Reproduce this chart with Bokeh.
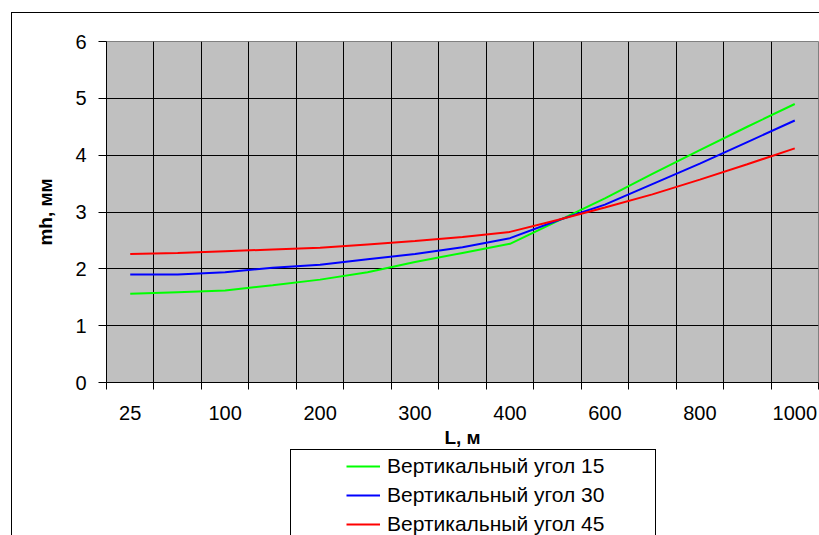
from bokeh.plotting import figure
from bokeh.layouts import column
from bokeh.models import (FixedTicker, CustomJSTickFormatter, Legend, LegendItem,
                          InlineStyleSheet)
from bokeh.embed import file_html
from bokeh.resources import INLINE

# ---- data -------------------------------------------------------------
categories = ["25", "50", "100", "150", "200", "250", "300", "350",
              "400", "500", "600", "700", "800", "900", "1000"]
shown_labels = ["25", "100", "200", "300", "400", "600", "800", "1000"]
angle15 = [1.56, 1.59, 1.62, 1.71, 1.81, 1.94, 2.12, 2.28,
           2.44, 2.84, 3.24, 3.67, 4.09, 4.50, 4.90]
angle30 = [1.90, 1.90, 1.94, 2.02, 2.07, 2.17, 2.26, 2.38,
           2.54, 2.85, 3.13, 3.49, 3.85, 4.23, 4.61]
angle45 = [2.26, 2.28, 2.31, 2.34, 2.37, 2.43, 2.49, 2.56,
           2.65, 2.86, 3.08, 3.31, 3.57, 3.84, 4.12]
series_names = ["Вертикальный угол 15", "Вертикальный угол 30",
                "Вертикальный угол 45"]
y_ticks = [0, 1, 2, 3, 4, 5, 6]

FONT = "Liberation Sans"
colors = ["#00FF00", "#0000FF", "#FF0000"]
series = [angle15, angle30, angle45]

n = len(categories)
xs = [i + 0.5 for i in range(n)]
label_pos = [categories.index(s) + 0.5 for s in shown_labels]

# ---- main chart ---------------------------------------------------------
p = figure(width=819, height=450, output_backend="svg", toolbar_location=None,
           x_range=(0, n), y_range=(y_ticks[0], y_ticks[-1]),
           min_border_left=106, min_border_top=41, min_border_right=1,
           min_border_bottom=67)

p.background_fill_color = "#C0C0C0"
p.border_fill_color = "white"
p.outline_line_color = "#808080"
p.outline_line_width = 1

# x axis: labels at band centres, tick marks at band boundaries
xa = p.xaxis[0]
xa.ticker = FixedTicker(ticks=label_pos, minor_ticks=list(range(n + 1)))
xa.formatter = CustomJSTickFormatter(args=dict(labels=categories),
                                     code="return labels[Math.floor(tick)];")
xa.major_tick_out = 0
xa.major_tick_in = 0
xa.minor_tick_out = 7
xa.minor_tick_in = 0
xa.minor_tick_line_color = "black"
xa.axis_line_color = "black"
xa.major_label_standoff = 16
xa.major_label_text_font = FONT
xa.major_label_text_font_size = "20px"
xa.major_label_text_color = "black"
xa.axis_label = "L, м"
xa.axis_label_text_font = FONT
xa.axis_label_text_font_size = "19px"
xa.axis_label_text_font_style = "bold"
xa.axis_label_text_color = "black"
xa.axis_label_standoff = 4

ya = p.yaxis[0]
ya.ticker = FixedTicker(ticks=y_ticks)
ya.major_tick_out = 8
ya.major_tick_in = 0
ya.minor_tick_out = 0
ya.minor_tick_in = 0
ya.axis_line_color = "black"
ya.major_label_standoff = 12
ya.major_label_text_font = FONT
ya.major_label_text_font_size = "20px"
ya.major_label_text_color = "black"
ya.axis_label = "mh, мм"
ya.axis_label_text_font = FONT
ya.axis_label_text_font_size = "19px"
ya.axis_label_text_font_style = "bold"
ya.axis_label_text_color = "black"
ya.axis_label_standoff = 16

p.xgrid.ticker = FixedTicker(ticks=list(range(n + 1)))
p.grid.grid_line_color = "black"
p.grid.grid_line_alpha = 1
p.grid.grid_line_width = 1

for vals, c in zip(series, colors):
    p.line(xs, vals, line_color=c, line_width=2)

# ---- legend strip below the chart ---------------------------------------
# same series drawn into a strip whose view (0..1) shows none of them;
# they only supply the legend swatches
p2 = figure(width=819, height=85, output_backend="svg", toolbar_location=None,
            x_axis_type=None, y_axis_type=None, x_range=(0, 1), y_range=(0, 1),
            min_border=0, outline_line_color=None)
p2.background_fill_color = "white"
p2.border_fill_color = "white"

proxies = [p2.line(xs, vals, line_color=c, line_width=2)
           for vals, c in zip(series, colors)]
legend = Legend(items=[LegendItem(label=nm, renderers=[r])
                       for nm, r in zip(series_names, proxies)],
                location=(240, -1), orientation="vertical",
                padding=0, margin=0, spacing=5,
                glyph_width=34, glyph_height=24, label_height=24,
                label_standoff=7, label_text_font=FONT,
                label_text_font_size="21px", label_text_color="black",
                border_line_alpha=0, background_fill_alpha=0)
p2.add_layout(legend, "center")

layout = column(p, p2, spacing=0)

# outer chart frame and legend frame
layout.stylesheets = [InlineStyleSheet(css="""
:host::before {
  content: ""; position: absolute; left: 11px; top: 12px; right: 0; bottom: 0;
  border-left: 1.5px solid black; border-top: 1.5px solid black;
  pointer-events: none; z-index: 10;
}
:host::after {
  content: ""; position: absolute; left: 290px; top: 449px; width: 364px; bottom: 0;
  border: 1px solid black; border-bottom: none;
  pointer-events: none; z-index: 10;
}
""")]

open("out.html", "w").write(file_html(layout, INLINE))
